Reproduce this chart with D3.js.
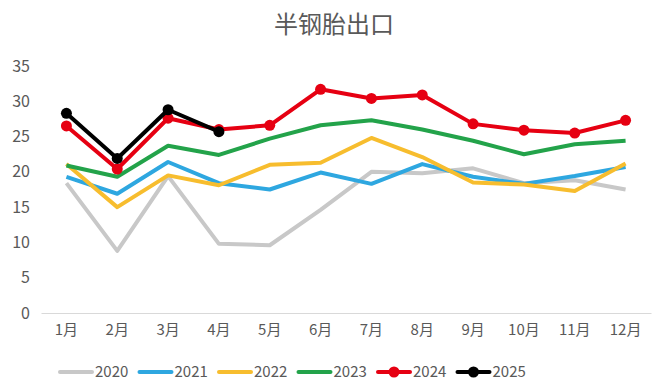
<!DOCTYPE html>
<html>
<head>
<meta charset="utf-8">
<script src="https://cdn.jsdelivr.net/npm/d3@7"></script>
<style>
  body { margin: 0; background: #fff; }
  text { font-family: "Noto Sans CJK SC", "Noto Sans", sans-serif; fill: #595959; }
</style>
</head>
<body>
<script>
const months = ["1月", "2月", "3月", "4月", "5月", "6月", "7月", "8月", "9月", "10月", "11月", "12月"];
const years = ["2020", "2021", "2022", "2023", "2024", "2025"];
const colors = ["#c8c8c8", "#2ea7e0", "#f7bd2e", "#23a34a", "#e60012", "#000000"];
const hasMarkers = [false, false, false, false, true, true];

const v2020 = [18.4, 8.8, 19.4, 9.8, 9.6, 14.6, 20.0, 19.8, 20.5, 18.4, 18.8, 17.5];
const v2021 = [19.3, 16.9, 21.4, 18.4, 17.5, 19.9, 18.3, 21.1, 19.3, 18.3, 19.4, 20.7];
const v2022 = [21.1, 15.0, 19.5, 18.1, 21.0, 21.3, 24.8, 22.1, 18.5, 18.2, 17.3, 21.2];
const v2023 = [20.9, 19.3, 23.7, 22.4, 24.7, 26.6, 27.3, 26.0, 24.4, 22.5, 23.9, 24.4];
const v2024 = [26.5, 20.4, 27.6, 26.0, 26.6, 31.7, 30.4, 30.9, 26.8, 25.9, 25.5, 27.3];
const v2025 = [28.3, 21.9, 28.8, 25.7];
const seriesValues = [v2020, v2021, v2022, v2023, v2024, v2025];
const yTicks = [0, 5, 10, 15, 20, 25, 30, 35];

const width = 660, height = 389;
const margin = {top: 66, right: 9, bottom: 76, left: 41};

const svg = d3.select("body").append("svg")
    .attr("width", width)
    .attr("height", height);

svg.append("text")
    .attr("x", width / 2 + 4)
    .attr("y", 33)
    .attr("text-anchor", "middle")
    .style("font-size", "24px")
    .text("半钢胎出口");

const x = d3.scaleBand()
    .domain(months)
    .range([margin.left, width - margin.right]);

const y = d3.scaleLinear()
    .domain([0, 35])
    .range([height - margin.bottom, margin.top]);

// y axis labels
svg.append("g")
    .selectAll("text")
    .data(yTicks)
    .enter().append("text")
    .attr("x", 30)
    .attr("y", d => y(d))
    .attr("dy", "0.35em")
    .attr("text-anchor", "end")
    .style("font-size", "16px")
    .text(d => d);

// x axis
const xAxis = svg.append("g")
    .attr("transform", `translate(0, ${y(0)})`)
    .call(d3.axisBottom(x).tickSize(0).tickPadding(11));
xAxis.select(".domain").attr("stroke", "#d9d9d9").attr("stroke-width", 1);
xAxis.selectAll("text")
    .style("font-size", "15px")
    .style("font-family", "\"Noto Sans CJK SC\", sans-serif")
    .attr("fill", "#595959");

const line = d3.line()
    .x((d, i) => x(months[i]) + x.bandwidth() / 2)
    .y(d => y(d));

seriesValues.forEach((vals, k) => {
    svg.append("path")
        .datum(vals)
        .attr("fill", "none")
        .attr("stroke", colors[k])
        .attr("stroke-width", 4)
        .attr("stroke-linejoin", "round")
        .attr("d", line);
    if (hasMarkers[k]) {
        svg.append("g")
            .selectAll("circle")
            .data(vals)
            .enter().append("circle")
            .attr("cx", (d, i) => x(months[i]) + x.bandwidth() / 2)
            .attr("cy", d => y(d))
            .attr("r", 5.5)
            .attr("fill", colors[k]);
    }
});

// legend
const legend = svg.append("g")
    .attr("transform", "translate(60, 372)");

const item = legend.selectAll("g")
    .data(years)
    .enter().append("g")
    .attr("transform", (d, i) => `translate(${i * 79.5}, 0)`);

item.append("line")
    .attr("x1", 0).attr("x2", 32)
    .attr("stroke", (d, i) => colors[i])
    .attr("stroke-width", 4)
    .attr("stroke-linecap", "round");

item.filter((d, i) => hasMarkers[i])
    .append("circle")
    .attr("cx", 16)
    .attr("r", 5.5)
    .attr("fill", (d, i) => colors[i + 4]);

item.append("text")
    .attr("x", 35)
    .attr("dy", "0.35em")
    .style("font-size", "15px")
    .text(d => d);
</script>
</body>
</html>
